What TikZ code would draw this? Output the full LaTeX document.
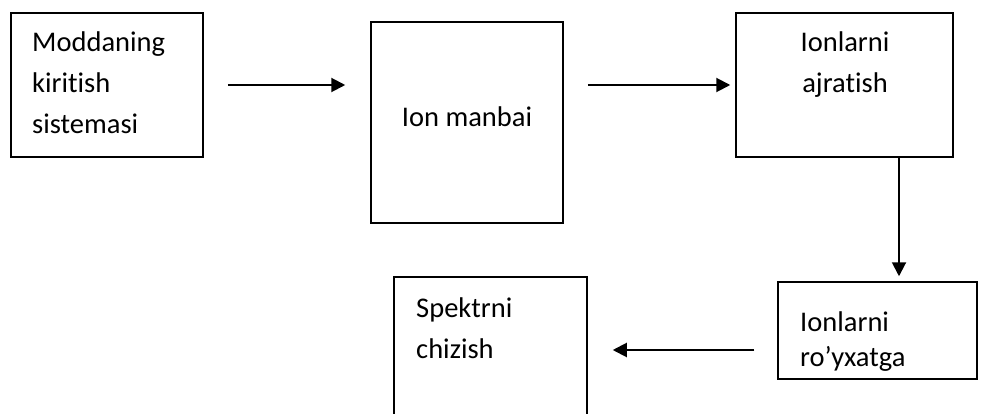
\documentclass[tikz,border=0pt]{standalone}
\usepackage{fontspec}
\setmainfont[Ligatures=NoCommon]{Carlito}
\usetikzlibrary{arrows.meta}
\tikzset{
  box/.style={draw, line width=1.5pt, rectangle, inner sep=0pt},
  arr/.style={line width=2pt, -{Triangle[length=14pt,width=14pt]}},
  txt/.style={inner sep=0pt, font=\fontsize{28.5}{41}\selectfont},
}
\begin{document}
\begin{tikzpicture}[x=1pt,y=-1pt]
\useasboundingbox (0,0) rectangle (984,414);
\clip (0,0) rectangle (984,414);
% boxes
\node[box, minimum width=192pt, minimum height=144pt] (b1) at (107,85) {};
\node[box, minimum width=192pt, minimum height=201pt] (b2) at (467,122.5) {};
\node[box, minimum width=217pt, minimum height=144pt] (b3) at (844.5,85) {};
\node[box, minimum width=199pt, minimum height=97pt] (b4) at (877.5,330.5) {};
\node[box, minimum width=193pt, minimum height=163pt] (b5) at (490.5,358.5) {};
% texts
\node[txt, anchor=base west] (t1a) at (32,52) {Moddaning};
\node[txt, anchor=base west] (t1b) at (32,93) {kiritish};
\node[txt, anchor=base west] (t1c) at (32,134) {sistemasi};
\node[txt, anchor=base] (t2) at (467,127) {Ion manbai};
\node[txt, anchor=base] (t3a) at (845,52) {Ionlarni};
\node[txt, anchor=base] (t3b) at (845,93) {ajratish};
\node[txt, anchor=base west] (t4a) at (800,331) {Ionlarni};
\node[txt, anchor=base west] (t4b) at (800,366) {ro’yxatga};
\node[txt, anchor=base west] (t5a) at (416,317) {Spektrni};
\node[txt, anchor=base west] (t5b) at (416,358) {chizish};
% connectors
\draw[arr, shorten <=24pt, shorten >=25pt] (b1.east) -- (b2.west |- b1.east);
\draw[arr, shorten <=24pt, shorten >=5pt] (b2.east |- b3.west) -- (b3.west);
\draw[arr, shorten >=5pt] ([xshift=54.5pt]b3.south) -- ([xshift=54.5pt]b3.south |- b4.north);
\draw[arr, shorten <=23pt, shorten >=25pt] ([yshift=-19.5pt]b4.west) -- ([yshift=-19.5pt]b4.west -| b5.east);
\end{tikzpicture}
\end{document}
